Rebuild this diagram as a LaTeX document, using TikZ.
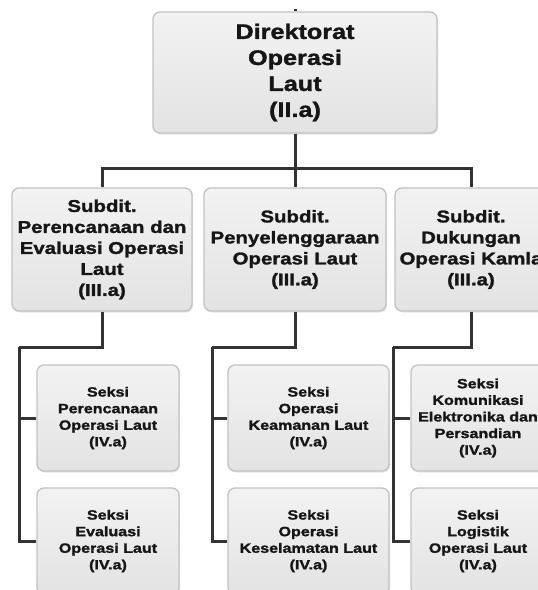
\documentclass[tikz,border=0pt]{standalone}
\usepackage{fontspec}
\setmainfont{Liberation Sans}[FakeStretch=1.2, BoldFeatures={FakeBold=1.6}]
\usetikzlibrary{shadows}
\definecolor{conncol}{HTML}{333333}
\definecolor{boxline}{HTML}{C2C2C2}
\definecolor{txtcol}{HTML}{161616}
\tikzset{
  box/.style={draw=boxline, line width=1.3pt, rounded corners=7pt,
    top color=white!95!black, bottom color=white!89!black,
    drop shadow={opacity=0.2, shadow xshift=1pt, shadow yshift=-1.5pt},
    inner sep=0pt, align=center, text=txtcol, anchor=center},
  topbox/.style={box, minimum width=284pt, minimum height=121pt,
    font=\fontsize{21}{26}\selectfont\bfseries},
  subbox/.style={box, minimum height=123pt,
    font=\fontsize{17}{21}\selectfont\bfseries},
  seksibox/.style={box, minimum height=106pt,
    font=\fontsize{13.4}{16.6}\selectfont\bfseries},
  conn/.style={draw=conncol, line width=3pt, line join=miter},
}
\begin{document}
\begin{tikzpicture}[x=1pt, y=-1pt]
\useasboundingbox (0,0) rectangle (538,590);
\clip (0,0) rectangle (538,590);
\fill[white] (0,0) rectangle (538,590);

% coordinates for connector joints
\coordinate (stub) at (295,9);
\coordinate (bar) at (295,168);
\coordinate (jA) at (19,347);
\coordinate (jB) at (212,347);
\coordinate (jC) at (393,347);

\node[topbox] (top) at (295,72.5) {Direktorat\\Operasi\\Laut\\(II.a)};
\node[subbox, minimum width=180pt] (sA) at (102,249.5) {Subdit.\\Perencanaan dan\\Evaluasi Operasi\\Laut\\(III.a)};
\node[subbox, minimum width=182pt] (sB) at (295,249.5) {Subdit.\\Penyelenggaraan\\Operasi Laut\\(III.a)};
\node[subbox, minimum width=152pt] (sC) at (471,249.5) {Subdit.\\Dukungan\\Operasi Kamla\\(III.a)};

\node[seksibox, minimum width=142pt] (a1) at (108,418) {Seksi\\Perencanaan\\Operasi Laut\\(IV.a)};
\node[seksibox, minimum width=142pt] (a2) at (108,541) {Seksi\\Evaluasi\\Operasi Laut\\(IV.a)};
\node[seksibox, minimum width=161pt] (b1) at (308.5,418) {Seksi\\Operasi\\Keamanan Laut\\(IV.a)};
\node[seksibox, minimum width=161pt] (b2) at (308.5,541) {Seksi\\Operasi\\Keselamatan Laut\\(IV.a)};
\node[seksibox, minimum width=134pt] (c1) at (478,418) {Seksi\\Komunikasi\\Elektronika dan\\Persandian\\(IV.a)};
\node[seksibox, minimum width=134pt] (c2) at (478,541) {Seksi\\Logistik\\Operasi Laut\\(IV.a)};

\draw[conn] (top.north) -- (stub);
\draw[conn] (top.south) -- (bar);
\draw[conn] (bar) -| (sA.north);
\draw[conn] (bar) -| (sC.north);
\draw[conn] (bar) -- (sB.north);
\draw[conn] (sA.south) |- (jA);
\draw[conn] (sB.south) |- (jB);
\draw[conn] (sC.south) |- (jC);
\draw[conn] (jA) |- (a1.west);
\draw[conn] (jA) |- (a2.west);
\draw[conn] (jB) |- (b1.west);
\draw[conn] (jB) |- (b2.west);
\draw[conn] (jC) |- (c1.west);
\draw[conn] (jC) |- (c2.west);
\end{tikzpicture}
\end{document}
